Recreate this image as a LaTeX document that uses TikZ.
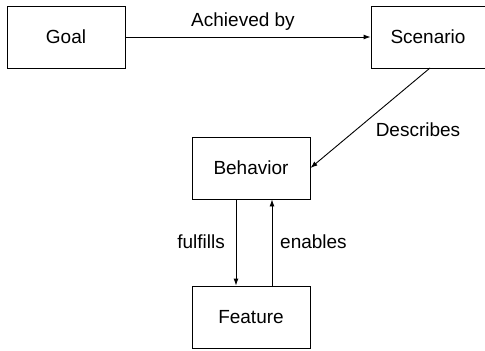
\documentclass[tikz,border=0pt]{standalone}
\usepackage{fontspec}
\setmainfont{Liberation Sans}
\usetikzlibrary{arrows.meta}
\begin{document}
\begin{tikzpicture}[x=1pt,y=-1pt,
  box/.style={draw, line width=0.9pt, minimum width=118pt, minimum height=62pt, inner sep=0pt},
  conn/.style={draw, line width=0.9pt, -{Latex[length=7pt,width=5pt]}},
  lbl/.style={inner sep=0pt},
  font=\fontsize{19}{22}\selectfont]
  \useasboundingbox (0,0) rectangle (485,351);
  \node[box] (goal) at (66,37) {Goal};
  \node[box, minimum width=114pt] (scen) at (428,37) {Scenario};
  \node[box] (beh) at (251,168) {Behavior};
  \node[box] (feat) at (251,317) {Feature};
  \coordinate (sfoot) at (430,68);
  \draw[conn] (goal.east) -- (scen.west);
  \node[lbl] (ach) at (243,22) {Achieved by};
  \draw[conn] (sfoot) -- (beh.east);
  \node[lbl] (desc) at (418,130) {Describes};
  \draw[conn] (236,199) coordinate (f1) -- (f1 |- feat.north);
  \draw[conn] (272,287) coordinate (e1) -- (e1 |- beh.south);
  \node[lbl, anchor=east] (ful) at (225,242) {fulfills};
  \node[lbl, anchor=west] (ena) at (280,242) {enables};
\end{tikzpicture}
\end{document}
